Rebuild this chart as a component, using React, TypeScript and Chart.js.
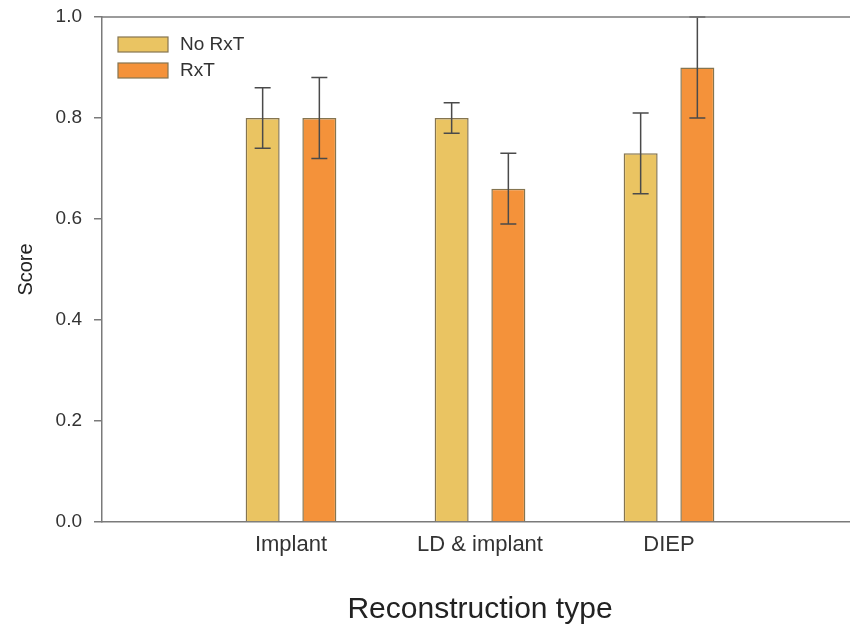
import React, { useEffect, useRef } from "react";
import { Chart, registerables } from "chart.js";

Chart.register(...registerables);

const categories = ["Implant", "LD & implant", "DIEP"];
const seriesNames = ["No RxT", "RxT"];
const noRxT = [0.8, 0.8, 0.73];
const rxT = [0.8, 0.66, 0.9];
const noRxTErr = [0.06, 0.03, 0.08];
const rxTErr = [0.08, 0.07, 0.1];
const yTicks = [0, 0.2, 0.4, 0.6, 0.8, 1.0];

const FONT = "'Liberation Sans', Arial, Helvetica, sans-serif";
const AXIS = "#7a7a7a";
const BORDER = "#857550";
const COLORS = ["#EAC462", "#F4923A"];

const pad = <T,>(arr: T[], fill: T): T[] => [fill, ...arr, fill];

const errorBars = {
  id: "errorBars",
  afterDatasetsDraw(chart: any) {
    const ctx = chart.ctx;
    const y = chart.scales.y;
    const a = chart.chartArea;
    ctx.save();
    ctx.beginPath();
    ctx.rect(a.left, a.top - 1, a.right - a.left, a.bottom - a.top + 2);
    ctx.clip();
    ctx.strokeStyle = "#4a4a4a";
    ctx.lineWidth = 1.5;
    chart.data.datasets.forEach((ds: any, di: number) => {
      const meta = chart.getDatasetMeta(di);
      meta.data.forEach((el: any, i: number) => {
        const v = ds.data[i];
        const e = ds.errors ? ds.errors[i] : null;
        if (v == null || e == null) return;
        const x = el.x;
        const yTop = y.getPixelForValue(v + e);
        const yBot = y.getPixelForValue(v - e);
        ctx.beginPath();
        ctx.moveTo(x, yTop);
        ctx.lineTo(x, yBot);
        ctx.moveTo(x - 8, yTop);
        ctx.lineTo(x + 8, yTop);
        ctx.moveTo(x - 8, yBot);
        ctx.lineTo(x + 8, yBot);
        ctx.stroke();
      });
    });
    ctx.restore();
  },
};

const frameAndLegend = {
  id: "frameAndLegend",
  afterDraw(chart: any) {
    const ctx = chart.ctx;
    const a = chart.chartArea;
    ctx.save();
    ctx.strokeStyle = AXIS;
    ctx.lineWidth = 1.5;
    ctx.beginPath();
    ctx.moveTo(a.left, a.top);
    ctx.lineTo(a.right, a.top);
    ctx.stroke();

    ctx.font = `19px ${FONT}`;
    ctx.textBaseline = "middle";
    ctx.textAlign = "left";
    chart.data.datasets.forEach((ds: any, i: number) => {
      const bx = a.left + 16;
      const by = a.top + 20 + i * 26;
      ctx.fillStyle = ds.backgroundColor;
      ctx.fillRect(bx, by, 50, 15);
      ctx.strokeStyle = BORDER;
      ctx.lineWidth = 1.2;
      ctx.strokeRect(bx, by, 50, 15);
      ctx.fillStyle = "#333";
      ctx.fillText(ds.label, bx + 62, by + 8);
    });
    ctx.restore();
  },
};

export default function App() {
  const ref = useRef<HTMLCanvasElement>(null);
  useEffect(() => {
    if (!ref.current) return;
    const chart = new Chart(ref.current, {
      type: "bar",
      data: {
        labels: pad(categories, ""),
        datasets: [
          {
            label: seriesNames[0],
            data: pad<number | null>(noRxT, null),
            errors: pad<number | null>(noRxTErr, null),
            backgroundColor: COLORS[0],
            borderColor: BORDER,
            borderWidth: 1.5,
          } as any,
          {
            label: seriesNames[1],
            data: pad<number | null>(rxT, null),
            errors: pad<number | null>(rxTErr, null),
            backgroundColor: COLORS[1],
            borderColor: BORDER,
            borderWidth: 1.5,
          } as any,
        ],
      },
      options: {
        responsive: false,
        animation: false,
        events: [],
        categoryPercentage: 0.6,
        barPercentage: 0.6,
        layout: { padding: { left: 0, top: 17, right: 12, bottom: 0 } },
        plugins: {
          legend: { display: false },
          tooltip: { enabled: false },
        },
        scales: {
          x: {
            type: "category",
            offset: false,
            grid: { drawOnChartArea: false, drawTicks: false },
            border: { display: true, color: AXIS, width: 1.5 },
            ticks: {
              autoSkip: false,
              maxRotation: 0,
              padding: 10,
              color: "#333",
              font: { family: FONT, size: 22 },
            },
            title: {
              display: true,
              text: "Reconstruction type",
              color: "#222",
              font: { family: FONT, size: 30 },
              padding: { top: 2, bottom: 2 },
            },
            afterFit: (s: any) => {
              s.height = 108;
              s.paddingLeft = 0;
              s.paddingRight = 0;
            },
          },
          y: {
            min: 0,
            max: 1,
            afterBuildTicks: (s: any) => {
              s.ticks = yTicks.map((v) => ({ value: v }));
            },
            grid: {
              drawOnChartArea: false,
              drawTicks: true,
              tickLength: 8,
              color: AXIS,
              lineWidth: 1.5,
            },
            border: { display: true, color: AXIS, width: 1.5 },
            ticks: {
              padding: 12,
              color: "#333",
              font: { family: FONT, size: 19 },
              callback: (v: any) => Number(v).toFixed(1),
            },
            title: {
              display: true,
              text: "Score",
              color: "#222",
              font: { family: FONT, size: 20 },
              padding: { top: 14, bottom: 0 },
            },
            afterFit: (s: any) => {
              s.width = 102;
              s.paddingTop = 0;
              s.paddingBottom = 0;
            },
          },
        },
      } as any,
      plugins: [errorBars, frameAndLegend],
    });
    return () => chart.destroy();
  }, []);

  return (
    <div
      style={{
        position: "absolute",
        left: 0,
        top: 0,
        width: 850,
        height: 630,
        overflow: "hidden",
        background: "#fff",
      }}
    >
      <canvas ref={ref} width={870} height={630} style={{ display: "block" }} />
    </div>
  );
}
